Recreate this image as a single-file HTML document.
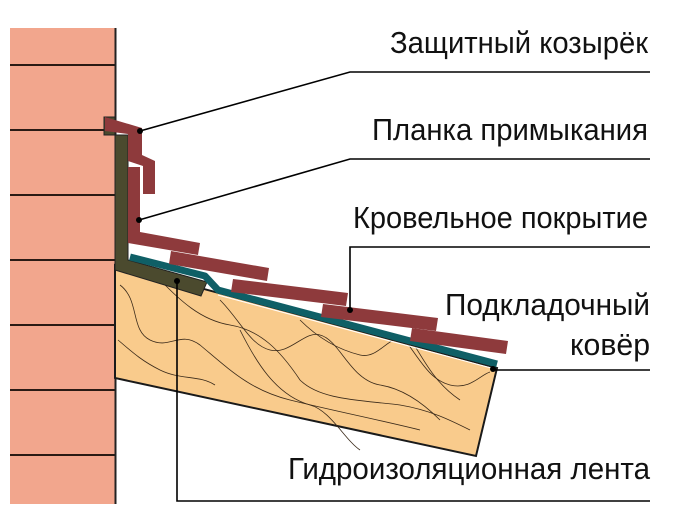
<!DOCTYPE html>
<html><head><meta charset="utf-8"><style>html,body{margin:0;padding:0;background:#fff}svg{display:block}</style></head>
<body>
<svg width="677" height="521" viewBox="0 0 677 521" xmlns="http://www.w3.org/2000/svg">
<rect x="10" y="28" width="105" height="476" fill="#f2a68d"/>
<g stroke="#2a1a14" stroke-width="2">
<line x1="10" y1="65" x2="115" y2="65"/><line x1="10" y1="130" x2="115" y2="130"/>
<line x1="10" y1="195" x2="115" y2="195"/><line x1="10" y1="260" x2="115" y2="260"/>
<line x1="10" y1="325" x2="115" y2="325"/><line x1="10" y1="390" x2="115" y2="390"/>
<line x1="10" y1="455" x2="115" y2="455"/>
</g>
<line x1="115.5" y1="28" x2="115.5" y2="504" stroke="#222" stroke-width="2"/>
<polygon points="115,265 497,368 476,456 115,378" fill="#f9cb8c" stroke="#1a1a1a" stroke-width="2"/>
<g fill="none" stroke="#3a2a1a" stroke-width="0.8">
<path d="M120,285 C140,300 130,330 150,340 C170,350 180,330 200,345 C230,370 250,390 290,400 C330,410 380,420 420,430"/>
<path d="M160,280 C180,300 200,320 230,325 C260,330 280,350 300,380 C320,400 360,400 400,405 C430,410 450,420 470,430"/>
<path d="M220,300 C240,320 250,345 270,350 C290,355 305,330 320,335 C340,340 350,380 380,385 C400,388 420,400 440,420"/>
<path d="M300,320 C320,340 340,350 360,355 C380,360 390,330 410,340 C420,350 430,380 460,400"/>
<path d="M405,340 C420,360 430,380 450,385 C470,390 480,375 490,372"/>
<path d="M118,340 C130,350 140,360 160,370 C180,380 200,375 215,385"/>
<path d="M240,330 C255,360 275,395 310,405 C330,410 345,440 360,450"/>
</g>
<polygon points="104,117 115,117 115,135 128,135 128,260 207,282 201,296 115,270 115,135 104,135" fill="#4b4a2e" stroke="#222" stroke-width="1"/>
<polyline points="130,257 205,276 218,290 497,364" fill="none" stroke="#0f5f66" stroke-width="7" stroke-linejoin="round"/>
<line x1="218" y1="295" x2="495" y2="369" stroke="#fff" stroke-width="1"/>
<g fill="#8e3a3c">
<polygon points="105,117 142,128 142,155 155,161 155,194 143,194 143,166 128,161 128,134 105,131"/>
<polygon points="128,167 140,167 140,232 200,243 198,255 128,243"/>
<polygon points="171,251 269,268 267,281 169,264"/>
<polygon points="233,279 348,293 346,306 231,292"/>
<polygon points="323,304 438,318 436,331 321,317"/>
<polygon points="412,328 508,341 506,354 410,341"/>
</g>
<g stroke="#000" stroke-width="1.6" fill="none">
<polyline points="140,131 350,72 650,72"/>
<polyline points="139,220 350,159 650,159"/>
<polyline points="350,310 350,247 650,247"/>
<polyline points="493,370 650,370"/>
<polyline points="177,281 177,501 650,501"/>
</g>
<g fill="#000">
<circle cx="140" cy="131" r="3"/><circle cx="139" cy="220" r="3"/>
<circle cx="350" cy="310" r="3"/><circle cx="493" cy="369" r="3"/>
<circle cx="177" cy="281" r="3"/>
</g>
<g font-family="Liberation Sans, sans-serif" font-size="31" fill="#111" text-anchor="end">
<text x="648" y="53" textLength="258" lengthAdjust="spacingAndGlyphs">Защитный козырёк</text>
<text x="648" y="140" textLength="276" lengthAdjust="spacingAndGlyphs">Планка примыкания</text>
<text x="648" y="228" textLength="295" lengthAdjust="spacingAndGlyphs">Кровельное покрытие</text>
<text x="650" y="315" textLength="205" lengthAdjust="spacingAndGlyphs">Подкладочный</text>
<text x="650" y="355" textLength="80" lengthAdjust="spacingAndGlyphs">ковёр</text>
<text x="650" y="479" textLength="362" lengthAdjust="spacingAndGlyphs">Гидроизоляционная лента</text>
</g>
</svg>
</body></html>
